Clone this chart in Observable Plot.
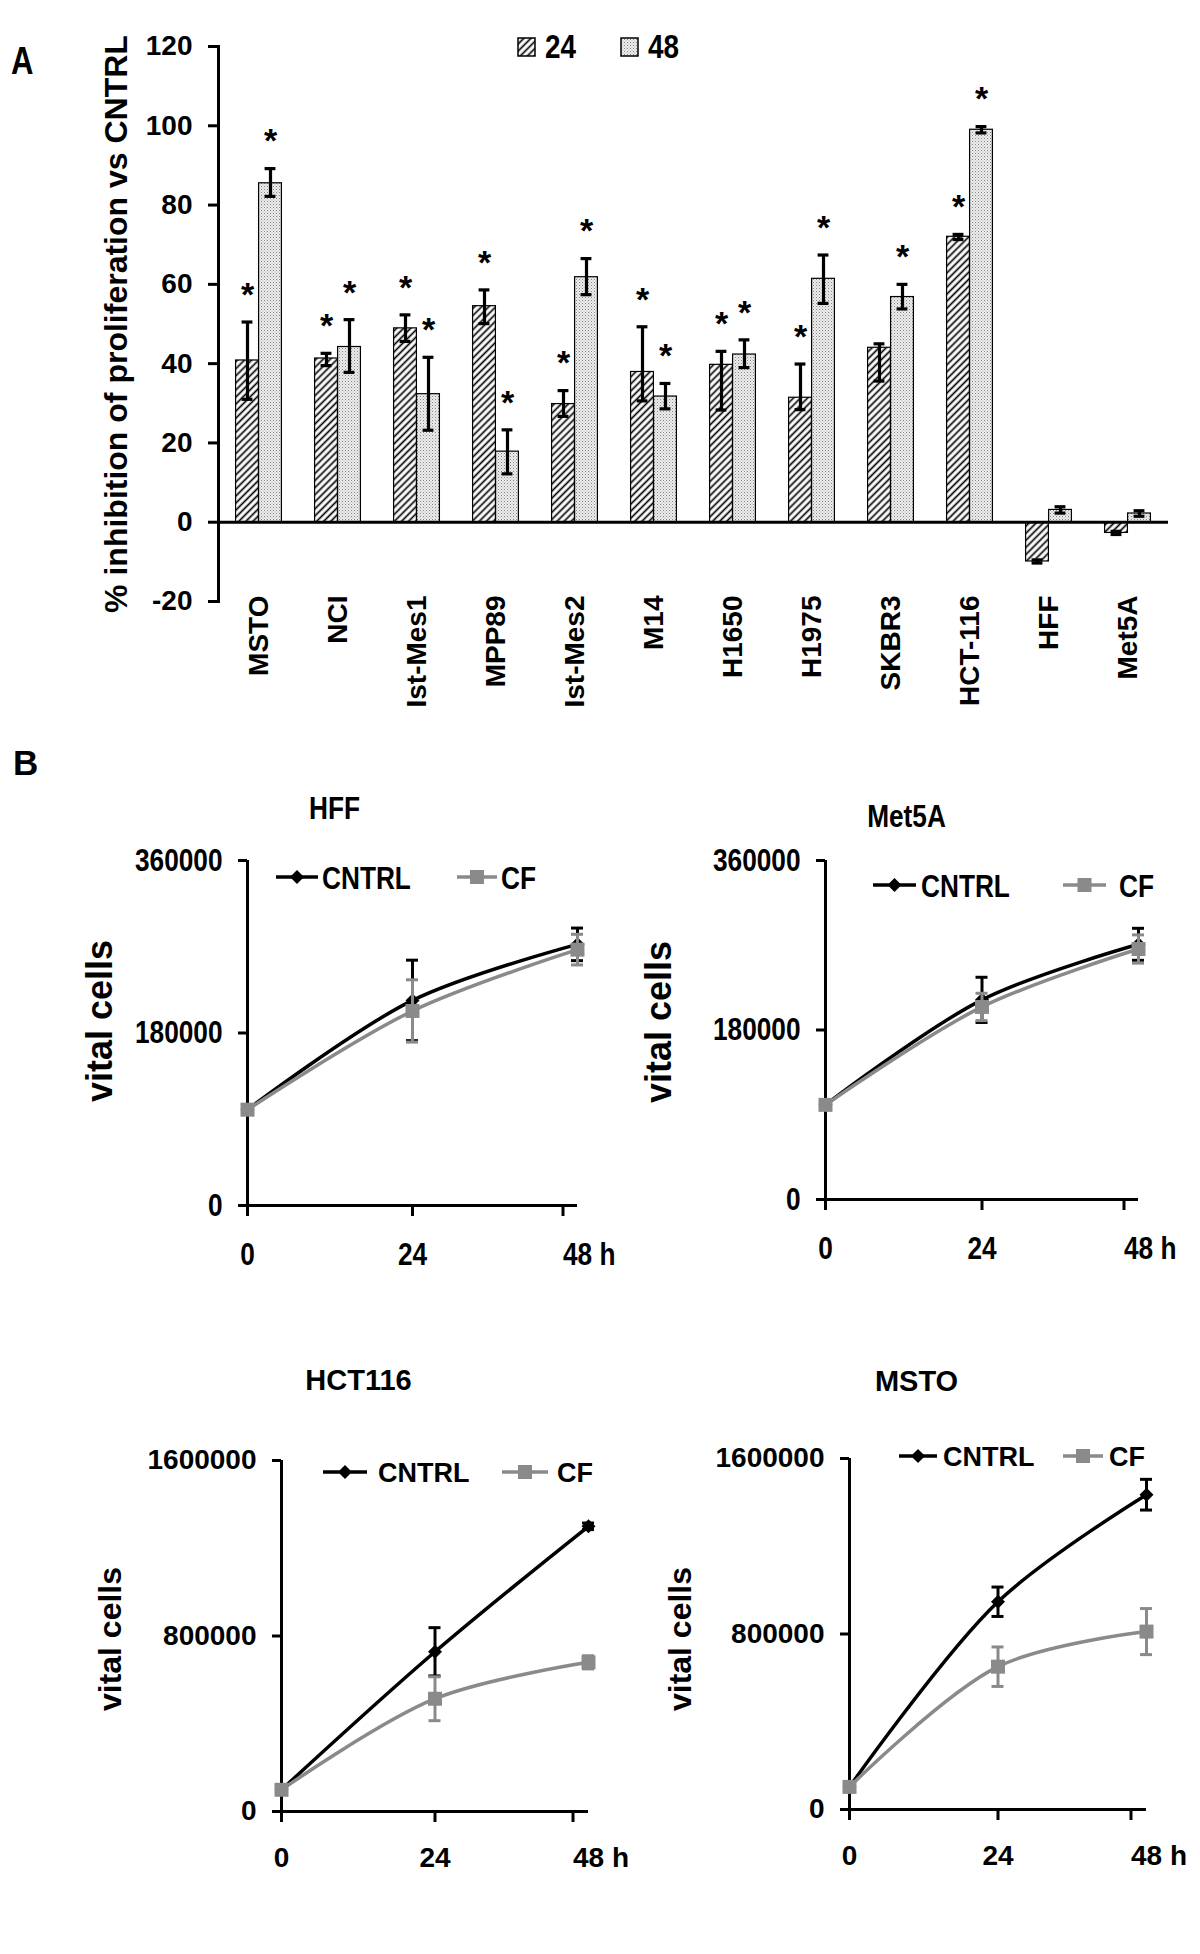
<!DOCTYPE html>
<html>
<head>
<meta charset="utf-8">
<script src="https://cdn.jsdelivr.net/npm/d3@7"></script>
<script src="https://cdn.jsdelivr.net/npm/@observablehq/plot@0.6"></script>
<style>
html,body{margin:0;padding:0;background:#fff;}
#root{position:relative;width:1200px;height:1954px;overflow:hidden;background:#fff;}
#root svg{max-width:none;}
.slot{position:absolute;}
</style>
</head>
<body>
<svg width="0" height="0" style="position:absolute">
<defs>
<pattern id="hatch" patternUnits="userSpaceOnUse" width="5" height="5" patternTransform="rotate(45)">
<rect width="5" height="5" fill="#fff"/>
<line x1="2.5" y1="0" x2="2.5" y2="5" stroke="#000" stroke-width="1.7"/>
</pattern>
<pattern id="stipple" patternUnits="userSpaceOnUse" width="3" height="3">
<rect width="3" height="3" fill="#ececec"/>
<rect x="0" y="0" width="1" height="1" fill="#858585"/>
<rect x="1.5" y="1.5" width="1" height="1" fill="#b0b0b0"/>
</pattern>
</defs>
</svg>
<div id="root"></div>
<script>
// ---------- Panel A data ----------
const categories = ["MSTO","NCI","Ist-Mes1","MPP89","Ist-Mes2","M14","H1650","H1975","SKBR3","HCT-116","HFF","Met5A"];
const seriesNames = ["24", "48"];
const inhibition24 = [40.8, 41.3, 48.9, 54.5, 29.8, 37.9, 39.7, 31.4, 44.0, 72.0, -9.9, -2.7];
const err24Low     = [31.0, 39.5, 45.6, 50.1, 26.7, 30.6, 28.3, 28.4, 35.6, 71.3, -10.3, -3.1];
const err24High    = [50.5, 42.6, 52.3, 58.6, 33.2, 49.3, 43.1, 39.9, 45.0, 72.6, -9.5, -2.3];
const inhibition48 = [85.5, 44.2, 32.3, 17.8, 61.8, 31.7, 42.3, 61.4, 56.8, 99.0, 3.1, 2.2];
const err48Low     = [82.2, 37.8, 23.2, 12.2, 57.4, 28.6, 39.0, 55.2, 53.8, 98.2, 2.3, 1.5];
const err48High    = [89.2, 51.1, 41.6, 23.3, 66.5, 35.0, 46.0, 67.4, 60.0, 99.8, 3.9, 2.9];
const signif24 = [true, true, true, true, true, true, true, true, false, true, false, false];
const signif48 = [true, true, true, true, true, true, true, true, true, true, false, false];
const yTicksA = [-20, 0, 20, 40, 60, 80, 100, 120];
const yLabelA = "% inhibition of proliferation vs CNTRL";

// ---------- Panel B data ----------
const hours = [0, 24, 48];
const hffCntrl = [100000, 214000, 272500];   const hffCntrlErr = [0, 42000, 17000];
const hffCf = [100000, 203000, 267000];      const hffCfErr = [0, 32500, 16000];
const met5aCntrl = [100500, 212000, 271000]; const met5aCntrlErr = [0, 24000, 17000];
const met5aCf = [100500, 204500, 266000];    const met5aCfErr = [0, 14500, 15000];
const hct116Cntrl = [99000, 728000, 1300000]; const hct116CntrlErr = [0, 110000, 15000];
const hct116Cf = [99000, 514000, 680000];     const hct116CfErr = [0, 100000, 30000];
const mstoCntrl = [103000, 947000, 1435000];  const mstoCntrlErr = [0, 67000, 70000];
const mstoCf = [103000, 651000, 811000];      const mstoCfErr = [0, 90000, 105000];
const yTicksSmall = [0, 180000, 360000];
const yTicksLarge = [0, 800000, 1600000];
const seriesB = ["CNTRL", "CF"];

// ---------- styles ----------
const SANS = '"Liberation Sans", Arial, Helvetica, sans-serif';
const NARROW_SCALE = 0.82;
const GRAY = "#8a8a8a";

const root = document.getElementById("root");
function place(node, left, top) {
  const d = document.createElement("div");
  d.className = "slot";
  d.style.left = left + "px";
  d.style.top = top + "px";
  d.appendChild(node);
  root.appendChild(d);
}
// horizontally condense the texts of marks tagged with a marker font-variant
function condense(svg) {
  d3.select(svg).selectAll('g[font-variant="small-caps-none"] text, text[font-variant="small-caps-none"]').each(function () {
    const t = this.getAttribute("transform");
    if (t) this.setAttribute("transform", t + ` scale(${NARROW_SCALE},1)`);
    else {
      const x = +this.getAttribute("x") || 0, y = +this.getAttribute("y") || 0;
      this.setAttribute("x", 0); this.setAttribute("y", 0);
      this.setAttribute("transform", `translate(${x},${y}) scale(${NARROW_SCALE},1)`);
    }
  });
  d3.select(svg).selectAll('[font-variant="small-caps-none"]').attr("font-variant", null);
  return svg;
}
const narrowTag = {fontVariant: "small-caps-none"};

// ---------- Panel A ----------
const rowsA = categories.map((c, i) => ({
  c,
  v24: inhibition24[i], lo24: err24Low[i], hi24: err24High[i], s24: signif24[i],
  v48: inhibition48[i], lo48: err48Low[i], hi48: err48High[i], s48: signif48[i]
}));
const widthA = 1200, mlA = 218, mrA = 32;
const half = (widthA - mlA - mrA) / categories.length / 2;
const barW = 23, capW = 11;

const plotA = Plot.plot({
  width: widthA, height: 720,
  marginLeft: mlA, marginRight: mrA, marginTop: 46, marginBottom: 119,
  style: {background: "transparent", overflow: "visible", fontFamily: SANS, fontWeight: "bold", color: "#000"},
  x: {type: "band", domain: categories, paddingInner: 0, paddingOuter: 0},
  y: {domain: [-20, 120]},
  marks: [
    Plot.barY(rowsA, {x: "c", y: "v24", fill: "url(#hatch)", stroke: "#000", strokeWidth: 1.2, insetLeft: half - barW, insetRight: half}),
    Plot.barY(rowsA, {x: "c", y: "v48", fill: "url(#stipple)", stroke: "#000", strokeWidth: 1.2, insetLeft: half, insetRight: half - barW}),
    Plot.ruleY([0], {stroke: "#000", strokeWidth: 3}),
    Plot.ruleX(rowsA, {x: "c", y1: "lo24", y2: "hi24", dx: -barW / 2, stroke: "#000", strokeWidth: 3.2}),
    Plot.tickY(rowsA, {x: "c", y: "lo24", insetLeft: half - barW / 2 - capW / 2, insetRight: half + barW / 2 - capW / 2, strokeWidth: 3.2}),
    Plot.tickY(rowsA, {x: "c", y: "hi24", insetLeft: half - barW / 2 - capW / 2, insetRight: half + barW / 2 - capW / 2, strokeWidth: 3.2}),
    Plot.ruleX(rowsA, {x: "c", y1: "lo48", y2: "hi48", dx: barW / 2, stroke: "#000", strokeWidth: 3.2}),
    Plot.tickY(rowsA, {x: "c", y: "lo48", insetLeft: half + barW / 2 - capW / 2, insetRight: half - barW / 2 - capW / 2, strokeWidth: 3.2}),
    Plot.tickY(rowsA, {x: "c", y: "hi48", insetLeft: half + barW / 2 - capW / 2, insetRight: half - barW / 2 - capW / 2, strokeWidth: 3.2}),
    Plot.text(rowsA.filter(d => d.s24), {x: "c", y: "hi24", text: () => "*", dx: -barW / 2, dy: -27, fontSize: 34, fontWeight: "bold", fontFamily: SANS}),
    Plot.text(rowsA.filter(d => d.s48), {x: "c", y: "hi48", text: () => "*", dx: barW / 2, dy: -27, fontSize: 34, fontWeight: "bold", fontFamily: SANS}),
    Plot.axisY({ticks: yTicksA, tickSize: 10, tickPadding: 16, tickFormat: d => String(d), label: null,
      fontSize: 28, fontWeight: "bold", fontFamily: SANS, strokeWidth: 3}),
    Plot.axisX({tickSize: 0, tickRotate: -90, tickPadding: -6, label: null,
      fontSize: 28, fontWeight: "bold", fontFamily: SANS}),
    Plot.frame({anchor: "left", strokeWidth: 3}),
    Plot.text([yLabelA], {frameAnchor: "left", dx: -102, rotate: -90, textAnchor: "middle", lineAnchor: "middle",
      fontSize: 32, fontWeight: "bold", fontFamily: SANS})
  ]
});
place(plotA, 0, 0);

// ---------- Panel B ----------
function growthPlot(cfg) {
  const mk = (vals, errs) => hours.map((h, i) => ({h, v: vals[i], e: errs[i]}));
  const groups = [
    {rows: mk(cfg.cntrl, cfg.cntrlErr), color: "#000", symbol: "diamond2", r: 6.3},
    {rows: mk(cfg.cf, cfg.cfErr), color: GRAY, symbol: "square", r: 7.9}
  ];
  const seriesMarks = [];
  for (const g of groups) {
    const withErr = g.rows.filter(d => d.e > 0);
    seriesMarks.push(
      Plot.line(g.rows, {x: "h", y: "v", stroke: g.color, strokeWidth: 3.5, curve: "catmull-rom"}),
      Plot.ruleX(withErr, {x: "h", y1: d => d.v - d.e, y2: d => d.v + d.e, stroke: g.color, strokeWidth: 3}),
      Plot.ruleY(withErr, {x1: "h", x2: "h", y: d => d.v + d.e, insetLeft: -6, insetRight: -6, stroke: g.color, strokeWidth: 3}),
      Plot.ruleY(withErr, {x1: "h", x2: "h", y: d => d.v - d.e, insetLeft: -6, insetRight: -6, stroke: g.color, strokeWidth: 3}),
      Plot.dot(g.rows, {x: "h", y: "v", symbol: g.symbol, r: g.r, fill: g.color, stroke: "none"})
    );
  }
  const tag = cfg.narrow ? narrowTag : {};
  const tf = {fontSize: cfg.tickSize, fontWeight: "bold", fontFamily: SANS, ...tag};
  const svg = Plot.plot({
    width: cfg.w, height: cfg.h,
    marginLeft: cfg.ml, marginRight: cfg.mr, marginTop: cfg.mt, marginBottom: cfg.mb,
    style: {background: "transparent", overflow: "visible", fontFamily: SANS, fontWeight: "bold", color: "#000"},
    x: {domain: [0, 48]},
    y: {domain: [0, cfg.yMax]},
    marks: [
      Plot.axisY({ticks: cfg.yTicks, tickSize: 9, tickPadding: 16, tickFormat: d => String(d), label: null, strokeWidth: 3, ...tf}),
      Plot.axisX({ticks: hours.slice(0, 2), tickSize: 11, tickPadding: cfg.xPad, tickFormat: d => String(d), label: null, strokeWidth: 3, ...tf}),
      Plot.axisX({ticks: hours.slice(2), tickSize: 11, tickPadding: cfg.xPad, tickFormat: d => d + " h", textAnchor: "start", dx: -cfg.hShift, label: null, strokeWidth: 3, ...tf}),
      Plot.ruleY([0], {stroke: "#000", strokeWidth: 3}),
      Plot.ruleX([0], {stroke: "#000", strokeWidth: 3}),
      ...seriesMarks,
      Plot.text([cfg.title], {frameAnchor: "top-left", dx: cfg.titleDx, dy: cfg.titleDy, textAnchor: "middle", lineAnchor: "middle",
        fontSize: cfg.titleSize, fontWeight: "bold", fontFamily: SANS, ...tag}),
      Plot.text(["vital cells"], {frameAnchor: "left", dx: cfg.labDx, dy: cfg.labDy, rotate: -90, textAnchor: "middle", lineAnchor: "middle",
        fontSize: cfg.labSize, fontWeight: "bold", fontFamily: SANS})
    ]
  });
  return condense(svg);
}

const top1 = 740, top2 = 1320;
place(growthPlot({
  title: "HFF", cntrl: hffCntrl, cntrlErr: hffCntrlErr, cf: hffCf, cfErr: hffCfErr,
  yMax: 360000, yTicks: yTicksSmall, narrow: true,
  w: 620, h: 550, ml: 247, mr: 43, mt: 120, mb: 85,
  tickSize: 32, xPad: 26, hShift: 14.5,
  titleDx: 87, titleDy: -52, titleSize: 32,
  labDx: -147, labDy: -12, labSize: 36
}), 0, top1);

place(growthPlot({
  title: "Met5A", cntrl: met5aCntrl, cntrlErr: met5aCntrlErr, cf: met5aCf, cfErr: met5aCfErr,
  yMax: 360000, yTicks: yTicksSmall, narrow: true,
  w: 600, h: 550, ml: 225, mr: 62, mt: 120, mb: 91,
  tickSize: 32, xPad: 26, hShift: 14.5,
  titleDx: 81, titleDy: -44, titleSize: 32,
  labDx: -166, labDy: -8, labSize: 36
}), 600, top1);

place(growthPlot({
  title: "HCT116", cntrl: hct116Cntrl, cntrlErr: hct116CntrlErr, cf: hct116Cf, cfErr: hct116CfErr,
  yMax: 1600000, yTicks: yTicksLarge, narrow: false,
  w: 640, h: 634, ml: 281, mr: 52, mt: 140, mb: 143,
  tickSize: 28, xPad: 25, hShift: 15.5,
  titleDx: 77, titleDy: -80, titleSize: 29,
  labDx: -171, labDy: 3, labSize: 32
}), 0, top2);

place(growthPlot({
  title: "MSTO", cntrl: mstoCntrl, cntrlErr: mstoCntrlErr, cf: mstoCf, cfErr: mstoCfErr,
  yMax: 1600000, yTicks: yTicksLarge, narrow: false,
  w: 600, h: 634, ml: 249, mr: 54, mt: 138, mb: 145,
  tickSize: 28, xPad: 25, hShift: 15.5,
  titleDx: 67, titleDy: -77, titleSize: 29,
  labDx: -169, labDy: 5, labSize: 32
}), 600, top2);

// ---------- overlay: panel letters and legends ----------
const ov = d3.create("svg").attr("width", 1200).attr("height", 1954)
  .style("position", "absolute").style("left", 0).style("top", 0).style("pointer-events", "none");
function addText(x, y, str, size, narrow, extra) {
  const t = ov.append("text").text(str)
    .attr("font-family", SANS).attr("font-weight", "bold").attr("font-size", size)
    .attr("transform", `translate(${x},${y})` + (narrow ? ` scale(${NARROW_SCALE},1)` : ""));
  if (extra) extra(t);
  return t;
}
addText(11, 74, "A", 38, true);
addText(13, 775, "B", 35, false);

// legend A
[{x: 518, fill: "url(#hatch)", label: seriesNames[0]}, {x: 621, fill: "url(#stipple)", label: seriesNames[1]}].forEach(it => {
  ov.append("rect").attr("x", it.x).attr("y", 38).attr("width", 17).attr("height", 18)
    .attr("fill", it.fill).attr("stroke", "#000").attr("stroke-width", 1.5);
  addText(it.x + 27, 58, it.label, 34, true);
});

// legends B
function legendB(y, items, size, narrow) {
  items.forEach((it, k) => {
    const color = k === 0 ? "#000" : GRAY;
    const sym = k === 0 ? d3.symbolDiamond2 : d3.symbolSquare;
    const r = k === 0 ? 6.3 : 7.9;
    ov.append("line").attr("x1", it.x1).attr("x2", it.x2).attr("y1", y).attr("y2", y)
      .attr("stroke", color).attr("stroke-width", 3.5);
    ov.append("path").attr("d", d3.symbol(sym, Math.PI * r * r)())
      .attr("transform", `translate(${(it.x1 + it.x2) / 2},${y})`).attr("fill", color);
    addText(it.tx, y, seriesB[k], size, narrow, t => t.attr("dy", "0.36em"));
  });
}
legendB(877, [{x1: 276, x2: 318, tx: 322}, {x1: 457, x2: 497, tx: 501}], 32, true);
legendB(885, [{x1: 873, x2: 916, tx: 921}, {x1: 1063, x2: 1106, tx: 1119}], 32, true);
legendB(1472, [{x1: 323, x2: 367, tx: 378}, {x1: 502, x2: 548, tx: 557}], 27, false);
legendB(1456, [{x1: 899, x2: 937, tx: 943}, {x1: 1063, x2: 1103, tx: 1109}], 27, false);

root.appendChild(ov.node());
</script>
</body>
</html>
